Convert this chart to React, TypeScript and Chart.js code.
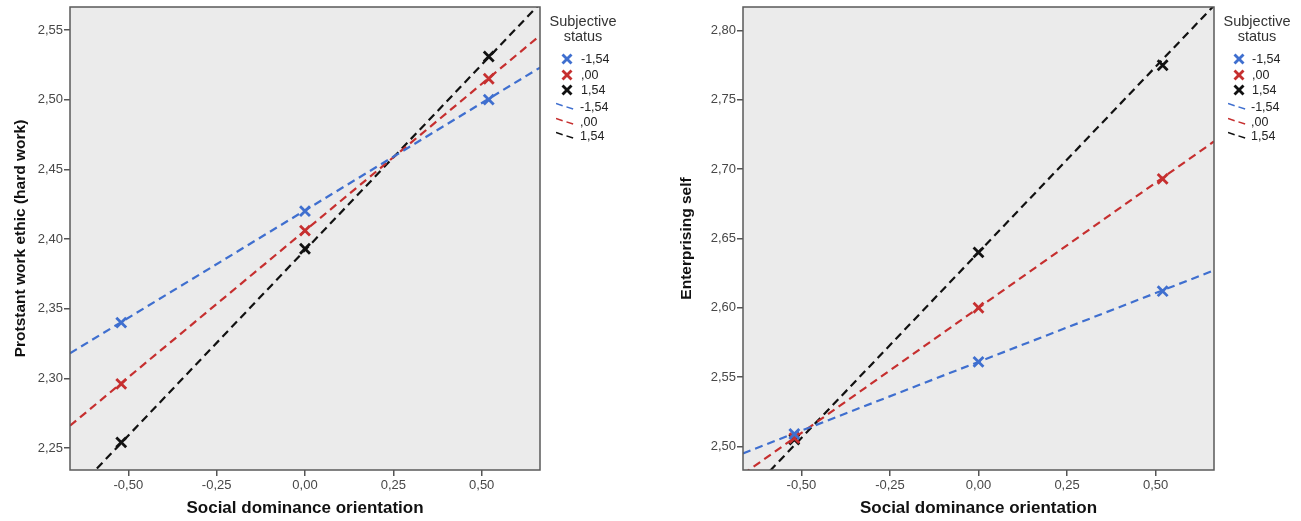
import React, { useEffect, useRef } from 'react';
import { Chart, registerables } from 'chart.js';

Chart.register(...registerables);

// ---------- data ----------
const statusLabels = ['-1,54', ',00', '1,54'];
const statusColors = ['#3f6fcf', '#c62f2f', '#111111'];
const sdoPoints = [-0.52, 0, 0.52];
const lineX = [-0.665, 0.665];
const xTicks = [-0.5, -0.25, 0, 0.25, 0.5];

// Left: Protestant work ethic
const pweLow = [2.34, 2.42, 2.5];
const pweMid = [2.296, 2.406, 2.515];
const pweHigh = [2.254, 2.393, 2.531];
const pweLineLow = [2.318, 2.523];
const pweLineMid = [2.266, 2.546];
const pweLineHigh = [2.215, 2.569];
const pweTicks = [2.25, 2.3, 2.35, 2.4, 2.45, 2.5, 2.55];

// Right: Enterprising self
const esLow = [2.509, 2.561, 2.612];
const esMid = [2.506, 2.6, 2.693];
const esHigh = [2.505, 2.64, 2.775];
const esLineLow = [2.495, 2.627];
const esLineMid = [2.48, 2.72];
const esLineHigh = [2.462, 2.818];
const esTicks = [2.5, 2.55, 2.6, 2.65, 2.7, 2.75, 2.8];

const FONT = '"Liberation Sans", Arial, sans-serif';
const fmt = (v: number) => Number(v).toFixed(2).replace('.', ',');

const framePlugin = {
  id: 'plotFrame',
  beforeDatasetsDraw(chart: any) {
    const { ctx, chartArea: a } = chart;
    ctx.save();
    ctx.fillStyle = '#ebebeb';
    ctx.fillRect(a.left, a.top, a.right - a.left, a.bottom - a.top);
    ctx.restore();
  },
  afterDraw(chart: any) {
    const { ctx, chartArea: a } = chart;
    ctx.save();
    ctx.strokeStyle = '#5a5a5a';
    ctx.lineWidth = 1.5;
    ctx.strokeRect(a.left, a.top, a.right - a.left, a.bottom - a.top);
    ctx.restore();
  },
};

type PanelProps = {
  left: number;
  width: number;
  yAxisWidth: number;
  padRight: number;
  yTitle: string;
  yTitlePad: number;
  means: number[][];
  lines: number[][];
  yMin: number;
  yMax: number;
  yTicks: number[];
};

function Panel(p: PanelProps) {
  const ref = useRef<HTMLCanvasElement | null>(null);
  useEffect(() => {
    if (!ref.current) return;
    const markerSets = p.means.map((vals, i) => ({
      type: 'scatter' as const,
      label: statusLabels[i],
      data: sdoPoints.map((x, j) => ({ x, y: vals[j] })),
      showLine: false,
      pointStyle: 'crossRot',
      pointRadius: 7,
      pointBorderWidth: 2.8,
      borderColor: statusColors[i],
      backgroundColor: statusColors[i],
      order: 0,
    }));
    const lineSets = p.lines.map((vals, i) => ({
      type: 'scatter' as const,
      label: 'fit ' + statusLabels[i],
      data: lineX.map((x, j) => ({ x, y: vals[j] })),
      showLine: true,
      pointRadius: 0,
      borderWidth: 2.2,
      borderDash: [8, 5],
      borderColor: statusColors[i],
      backgroundColor: statusColors[i],
      order: 1,
    }));
    const tickFont = { family: FONT, size: 13 };
    const chart = new Chart(ref.current, {
      type: 'scatter',
      data: { datasets: [...markerSets, ...lineSets] as any },
      plugins: [framePlugin],
      options: {
        animation: false,
        responsive: false,
        maintainAspectRatio: false,
        layout: { autoPadding: false, padding: { top: 7, right: p.padRight, left: 0, bottom: 0 } },
        plugins: { legend: { display: false }, tooltip: { enabled: false } },
        scales: {
          x: {
            type: 'linear',
            min: lineX[0],
            max: lineX[1],
            afterBuildTicks: (s: any) => {
              s.ticks = xTicks.map((v) => ({ value: v }));
            },
            afterFit: (s: any) => {
              s.height = 51;
              s.paddingLeft = 0;
              s.paddingRight = 0;
            },
            ticks: {
              callback: (v: any) => fmt(v),
              color: '#474747',
              font: tickFont,
              padding: 2,
              maxRotation: 0,
              autoSkip: false,
            },
            grid: { drawOnChartArea: false, drawTicks: true, tickLength: 6, color: '#555', lineWidth: 1.5 },
            border: { display: false },
            title: {
              display: true,
              text: 'Social dominance orientation',
              color: '#111',
              font: { family: FONT, size: 17, weight: 'bold', lineHeight: 1.2 },
              padding: { top: 0, bottom: 2 },
            },
          },
          y: {
            type: 'linear',
            min: p.yMin,
            max: p.yMax,
            afterBuildTicks: (s: any) => {
              s.ticks = p.yTicks.map((v) => ({ value: v }));
            },
            afterFit: (s: any) => {
              s.width = p.yAxisWidth;
              s.paddingTop = 0;
              s.paddingBottom = 0;
            },
            ticks: {
              callback: (v: any) => fmt(v),
              color: '#474747',
              font: tickFont,
              padding: 1,
              autoSkip: false,
            },
            grid: { drawOnChartArea: false, drawTicks: true, tickLength: 6, color: '#555', lineWidth: 1.5 },
            border: { display: false },
            title: {
              display: true,
              text: p.yTitle,
              color: '#111',
              font: { family: FONT, size: 15.5, weight: 'bold', lineHeight: 1.2 },
              padding: { top: p.yTitlePad, bottom: 0 },
            },
          },
        },
      } as any,
    });
    return () => chart.destroy();
  }, []);
  return (
    <canvas
      ref={ref}
      width={p.width}
      height={521}
      style={{ position: 'absolute', left: p.left, top: 0, width: p.width, height: 521 }}
    />
  );
}

function Legend({ titleX, iconX, textX }: { titleX: number; iconX: number; textX: number }) {
  const markerY = [59, 74.5, 90];
  const lineY = [106.5, 121.5, 136];
  const txt: React.CSSProperties = {
    position: 'absolute',
    fontFamily: FONT,
    fontSize: 12.5,
    color: '#222',
    lineHeight: '14px',
    whiteSpace: 'nowrap',
  };
  return (
    <>
      <div
        style={{
          position: 'absolute',
          left: titleX - 50,
          width: 100,
          top: 14,
          textAlign: 'center',
          fontFamily: FONT,
          fontSize: 14.5,
          lineHeight: '15px',
          color: '#333',
        }}
      >
        Subjective
        <br />
        status
      </div>
      {statusLabels.map((lab, i) => (
        <React.Fragment key={'m' + i}>
          <svg
            width={12}
            height={12}
            style={{ position: 'absolute', left: iconX - 6, top: markerY[i] - 6 }}
          >
            <line x1={1.5} y1={1.5} x2={10.5} y2={10.5} stroke={statusColors[i]} strokeWidth={2.8} />
            <line x1={10.5} y1={1.5} x2={1.5} y2={10.5} stroke={statusColors[i]} strokeWidth={2.8} />
          </svg>
          <div style={{ ...txt, left: textX, top: markerY[i] - 7 }}>{lab}</div>
        </React.Fragment>
      ))}
      {statusLabels.map((lab, i) => (
        <React.Fragment key={'l' + i}>
          <svg
            width={22}
            height={10}
            style={{ position: 'absolute', left: iconX - 11, top: lineY[i] - 5 }}
          >
            <line
              x1={0}
              y1={1.5}
              x2={20}
              y2={8}
              stroke={statusColors[i]}
              strokeWidth={1.5}
              strokeDasharray="7 4"
            />
          </svg>
          <div style={{ ...txt, left: textX - 1, top: lineY[i] - 7 }}>{lab}</div>
        </React.Fragment>
      ))}
    </>
  );
}

export default function App() {
  return (
    <div
      style={{
        position: 'fixed',
        left: 0,
        top: 0,
        width: 1301,
        height: 521,
        background: '#fff',
        overflow: 'hidden',
      }}
    >
      <Panel
        left={0}
        width={545}
        yAxisWidth={70}
        padRight={5}
        yTitle="Protstant work ethic (hard work)"
        yTitlePad={11}
        means={[pweLow, pweMid, pweHigh]}
        lines={[pweLineLow, pweLineMid, pweLineHigh]}
        yMin={2.2342}
        yMax={2.5665}
        yTicks={pweTicks}
      />
      <Legend titleX={583} iconX={567} textX={581} />
      <Panel
        left={640}
        width={580}
        yAxisWidth={103}
        padRight={6}
        yTitle="Enterprising self"
        yTitlePad={37}
        means={[esLow, esMid, esHigh]}
        lines={[esLineLow, esLineMid, esLineHigh]}
        yMin={2.483}
        yMax={2.817}
        yTicks={esTicks}
      />
      <Legend titleX={1257} iconX={1239} textX={1252} />
    </div>
  );
}
